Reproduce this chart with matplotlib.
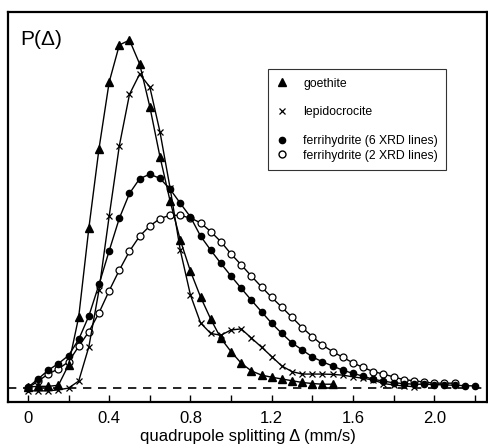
#!/usr/bin/env python3

import matplotlib
import numpy as np

matplotlib.use('Agg')
import matplotlib.pyplot as plt
from matplotlib.lines import Line2D

plt.rcParams['font.family'] = ['Liberation Sans', 'DejaVu Sans']

# quadrupole splitting grid (mm/s), one point every 0.05
goethite_x = np.round(np.arange(0, 1.501, 0.05), 2)
goethite_y = [0.003, 0.005, 0.005, 0.008, 0.066, 0.203, 0.457, 0.684, 0.874, 0.98,
              0.994, 0.926, 0.804, 0.661, 0.534, 0.423, 0.334, 0.26, 0.197, 0.142,
              0.104, 0.071, 0.049, 0.037, 0.031, 0.026, 0.021, 0.016, 0.013, 0.011,
              0.011]

lepido_x = np.round(np.arange(0, 1.901, 0.05), 2)
lepido_y = [-0.008, -0.008, -0.008, -0.005, 0.0, 0.02, 0.118, 0.28, 0.491, 0.692,
            0.839, 0.897, 0.86, 0.732, 0.571, 0.394, 0.266, 0.186, 0.156, 0.151,
            0.166, 0.169, 0.143, 0.117, 0.09, 0.063, 0.047, 0.04, 0.04, 0.04,
            0.039, 0.037, 0.032, 0.028, 0.023, 0.013, 0.009, 0.006, 0.004]

ferri6_x = np.round(np.arange(0, 2.201, 0.05), 2)
ferri6_y = [0.002, 0.026, 0.051, 0.07, 0.093, 0.139, 0.206, 0.296, 0.392, 0.485,
            0.556, 0.598, 0.611, 0.599, 0.568, 0.528, 0.489, 0.434, 0.394, 0.356,
            0.32, 0.285, 0.251, 0.218, 0.185, 0.156, 0.129, 0.109, 0.089, 0.075,
            0.063, 0.051, 0.042, 0.034, 0.025, 0.02, 0.015, 0.013, 0.011, 0.011,
            0.01, 0.009, 0.008, 0.007, 0.006]

ferri2_x = np.round(np.arange(0, 2.101, 0.05), 2)
ferri2_y = [0.0, 0.02, 0.04, 0.055, 0.075, 0.119, 0.161, 0.215, 0.278, 0.337,
            0.391, 0.434, 0.463, 0.484, 0.494, 0.493, 0.486, 0.472, 0.447, 0.418,
            0.383, 0.352, 0.32, 0.289, 0.259, 0.231, 0.202, 0.173, 0.147, 0.123,
            0.104, 0.088, 0.072, 0.059, 0.047, 0.04, 0.032, 0.024, 0.021, 0.017,
            0.014, 0.014, 0.014]

labels = ['goethite', 'lepidocrocite', 'ferrihydrite (6 XRD lines)',
          'ferrihydrite (2 XRD lines)']

fig = plt.figure(figsize=(4.88, 4.48), dpi=100)
ax = fig.add_axes([0.0164, 0.1033, 0.9816, 0.8697])

lw = 1.0
ax.axhline(0, color='black', lw=1.2, ls=(0, (5, 4)), zorder=1)
ax.plot(ferri2_x, ferri2_y, color='black', lw=lw, marker='o', ms=5,
        mfc='white', mec='black', mew=0.9, zorder=2)
ax.plot(ferri6_x, ferri6_y, color='black', lw=lw, marker='o', ms=4.5,
        mfc='black', mec='black', zorder=3)
ax.plot(lepido_x, lepido_y, color='black', lw=lw, marker='x', ms=4.5,
        mew=0.9, zorder=4)
ax.plot(goethite_x, goethite_y, color='black', lw=lw, marker='^', ms=5.5,
        mfc='black', mec='black', zorder=5)

ax.set_xlim(-0.098, 2.26)
ax.set_ylim(-0.039, 1.074)
ax.set_yticks([])
ax.set_xticks(np.arange(0, 2.01, 0.4))
ax.set_xticklabels(['0', '0.4', '0.8', '1.2', '1.6', '2.0'])
ax.set_xticks(np.arange(0.2, 2.21, 0.4), minor=True)
ax.tick_params(axis='x', which='both', direction='in', length=5, width=1,
               labelsize=12, pad=7)
for s in ax.spines.values():
    s.set_linewidth(1.6)

ax.set_xlabel('quadrupole splitting \u0394 (mm/s)', fontsize=12, labelpad=2)
ax.text(0.025, 0.955, 'P(\u0394)', transform=ax.transAxes, fontsize=15,
        va='top', ha='left')

blank = Line2D([], [], ls='none', marker='none')
handles = [
    Line2D([], [], ls='none', marker='^', color='black', ms=5.5),
    blank,
    Line2D([], [], ls='none', marker='x', color='black', ms=4.5, mew=0.9),
    blank,
    Line2D([], [], ls='none', marker='o', color='black', ms=4.5),
    Line2D([], [], ls='none', marker='o', mfc='white', mec='black', ms=5),
]
leg_labels = [labels[0], '', labels[1], '', labels[2], labels[3]]
leg = ax.legend(handles, leg_labels, loc='upper left',
                bbox_to_anchor=(0.542, 0.854), fontsize=8.8, frameon=True,
                fancybox=False, edgecolor='black', labelspacing=0.2,
                handlelength=1.0, handletextpad=1.2, borderpad=0.7,
                borderaxespad=0)
leg.get_frame().set_linewidth(0.8)

fig.savefig('out.png', dpi=100)
